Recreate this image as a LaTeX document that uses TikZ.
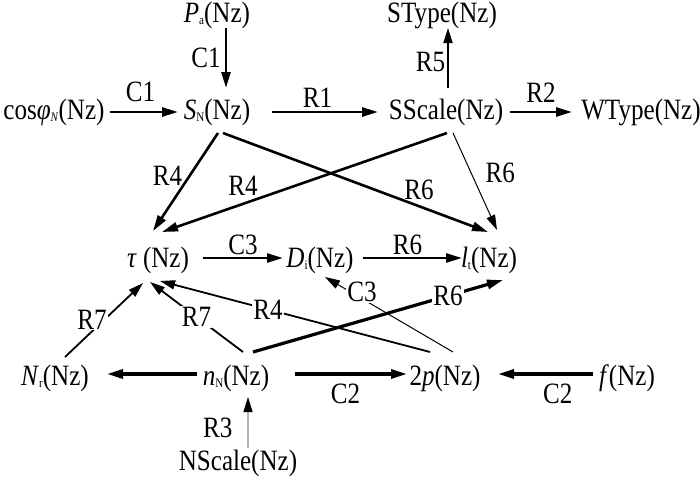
\documentclass[tikz,border=0pt]{standalone}
\usepackage{fontspec}
\setmainfont{Liberation Serif}[FakeStretch=0.85]
\usetikzlibrary{arrows.meta}
\tikzstyle{diagram} = [x = 1pt, y = -1pt, every node/.style={font=\fontsize{29.5}{34}\selectfont}]
\tikzstyle{varNode} = [inner sep = 0pt, text height = 21pt, text depth = 6pt]
\tikzstyle{heavyLink} = [line width = 3.2pt, -{Triangle[length=16pt, width=9pt]}]
\tikzstyle{boldLink} = [line width = 2.6pt, -{Triangle[length=16pt, width=9pt]}]
\tikzstyle{mediumLink} = [line width = 1.8pt, -{Triangle[length=15pt, width=9pt]}]
\tikzstyle{thinLink} = [line width = 1pt, -{Triangle[length=15pt, width=9pt]}]
\tikzstyle{greyLink} = [line width = 1.4pt, color=gray!60, -{Triangle[length=15pt, width=9pt, color=black]}]
\tikzstyle{linkText} = [inner sep = 1pt, text = black]
\tikzstyle{onLinkText} = [linkText, fill = white]
\newcommand{\lowIndex}[1]{\raisebox{-2pt}{\fontsize{13}{14}\selectfont #1}}
\newcommand{\link}[6]{\draw [#1] ([shift={#3}]#2.center) -- ([shift={#5}]#4.center) #6;}

\begin{document}
\begin{tikzpicture}[diagram]
            \useasboundingbox (0,0) rectangle (700,479);

            \node [varNode] (Pa) at (217,15) {\textit{P}\lowIndex{a}(Nz)};
            \node [varNode] (SType) at (442,15) {SType(Nz)};
            \node [varNode] (cos) at (54,112) {cos\textit{φ}\lowIndex{\textit{N}}(Nz)};
            \node [varNode] (SN) at (217,112) {\textit{S}\lowIndex{N}(Nz)};
            \node [varNode] (SScale) at (446,112) {SScale(Nz)};
            \node [varNode] (WType) at (641,112) {WType(Nz)};
            \node [varNode] (tau) at (158,260) {\textit{τ} (Nz)};
            \node [varNode] (Di) at (320,260) {\textit{D}\lowIndex{i}(Nz)};
            \node [varNode] (lt) at (489,260) {\textit{l}\lowIndex{t}(Nz)};
            \node [varNode] (Nr) at (55,378) {\textit{N}\lowIndex{r}(Nz)};
            \node [varNode] (nN) at (236,378) {\textit{n}\lowIndex{N}(Nz)};
            \node [varNode] (twoP) at (445,378) {2\textit{p}(Nz)};
            \node [varNode] (f) at (627,378) {\textit{f}(Nz)};
            \node [varNode] (NScale) at (238,463) {NScale(Nz)};

            \link{boldLink}{Pa}{(9,13)}{SN}{(9,-24)}{node [linkText, midway, left=3pt] {C1}}
            \link{boldLink}{cos}{(56,0)}{SN}{(-39,0)}{node [linkText, pos=.45, above=8pt] {C1}}
            \link{boldLink}{SN}{(55,0)}{SScale}{(-68,0)}{node [linkText, pos=.43, above=2pt] {R1}}
            \link{boldLink}{SScale}{(64,0)}{WType}{(-69,0)}{node [linkText, midway, above=7pt] {R2}}
            \link{mediumLink}{SScale}{(2,-24)}{SType}{(6,13)}{node [linkText, pos=.43, left=1pt] {R5}}

            \link{boldLink}{SN}{(1,21)}{tau}{(-5,-29)}{node [linkText, pos=.44, left=5pt] {R4}}
            \link{boldLink}{SN}{(6,21)}{lt}{(-1,-28)}{node [linkText, pos=.74, above=4pt] {R6}}
            \link{boldLink}{SScale}{(1,21)}{tau}{(4,-28)}{node [linkText, pos=.716, above=6pt] {R4}}
            \link{thinLink}{SScale}{(7,21)}{lt}{(8,-30)}{node [linkText, pos=.41, right=13pt] {R6}}

            \link{boldLink}{tau}{(45,-2)}{Di}{(-37,-2)}{node [linkText, midway, above=1pt] {C3}}
            \link{boldLink}{Di}{(43,-2)}{lt}{(-27,-2)}{node [linkText, pos=.45, above=1pt] {R6}}

            \link{mediumLink}{Nr}{(10,-21)}{tau}{(-15,23)}{node [onLinkText, pos=.41, xshift=-5pt, yshift=7pt] {R7}}
            \link{mediumLink}{nN}{(7,-26)}{tau}{(-8,22)}{node [onLinkText, midway] {R7}}
            \link{mediumLink}{twoP}{(-15,-26)}{tau}{(2,21)}{node [onLinkText, pos=.6] {R4}}
            \link{heavyLink}{nN}{(17,-26)}{lt}{(14,20)}{node [onLinkText, pos=.78] {R6}}
            \link{thinLink}{twoP}{(8,-26)}{Di}{(5,17)}{node [onLinkText, pos=.71, yshift=7pt] {C3}}

            \link{heavyLink}{nN}{(-39,-4)}{Nr}{(52,-4)}{}
            \link{heavyLink}{nN}{(59,-4)}{twoP}{(-38,-4)}{node [linkText, pos=.45, below=7pt] {C2}}
            \link{heavyLink}{f}{(-34,-4)}{twoP}{(53,-4)}{node [linkText, pos=.37, below=7pt] {C2}}
            \link{greyLink}{NScale}{(10,-15)}{nN}{(12,19)}{node [linkText, pos=.4, left=14pt] {R3}}
\end{tikzpicture}
\end{document}
